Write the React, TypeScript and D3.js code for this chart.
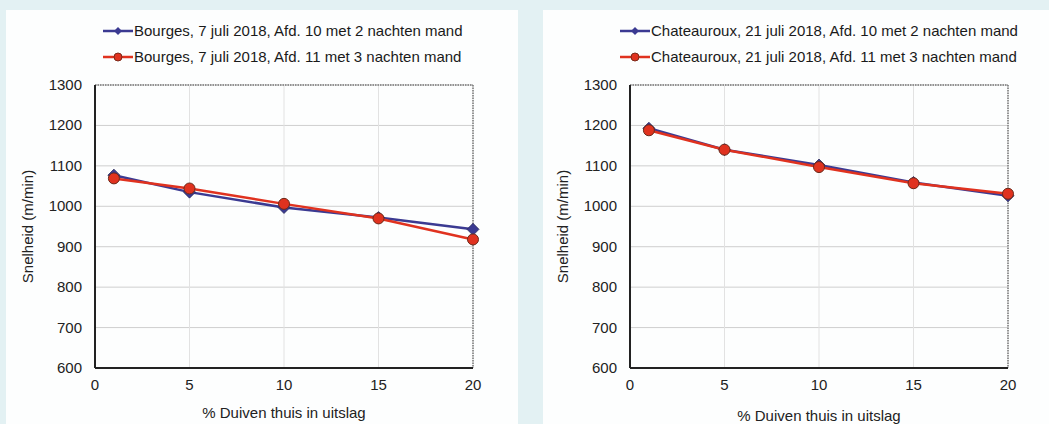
import React from 'react'
import * as d3 from 'd3'

const xValues = [1, 5, 10, 15, 20]
const xTicks = [0, 5, 10, 15, 20]
const yTicks = [600, 700, 800, 900, 1000, 1100, 1200, 1300]

const bourgesNames = [
  'Bourges, 7 juli 2018, Afd. 10 met 2 nachten mand',
  'Bourges, 7 juli 2018, Afd. 11 met 3 nachten mand',
]
const bourges2 = [1077, 1035, 997, 972, 943]
const bourges3 = [1069, 1044, 1006, 970, 918]

const chateauNames = [
  'Chateauroux, 21 juli 2018, Afd. 10 met 2 nachten mand',
  'Chateauroux, 21 juli 2018, Afd. 11 met 3 nachten mand',
]
const chateau2 = [1193, 1140, 1102, 1059, 1026]
const chateau3 = [1188, 1140, 1097, 1057, 1031]

const BLUE = '#3b3a92'
const RED = '#e0321f'
const FONT = '"Liberation Sans", Arial, sans-serif'
const FS = 15

type PanelProps = {
  px: number
  pw: number
  left: number
  right: number
  legendX: number
  titleX: number
  xTitleY: number
  names: string[]
  s2: number[]
  s3: number[]
}

function Panel({ px, pw, left, right, legendX, titleX, xTitleY, names, s2, s3 }: PanelProps) {
  const top = 85
  const bottom = 368
  const x = d3.scaleLinear().domain([0, 20]).range([left, right])
  const y = d3.scaleLinear().domain([600, 1300]).range([bottom, top])
  const line = d3.line<number>().x((_, i) => x(xValues[i])).y(d => y(d))
  const diamond = (cx: number, cy: number, r: number) =>
    `M${cx},${cy - r}L${cx + r},${cy}L${cx},${cy + r}L${cx - r},${cy}Z`

  return (
    <g>
      <rect x={px} y={10} width={pw} height={420} fill="#fdfefe" />
      {/* legend */}
      {names.map((n, i) => {
        const ly = 31 + i * 26
        const c = i === 0 ? BLUE : RED
        return (
          <g key={n}>
            <line x1={legendX} x2={legendX + 30} y1={ly} y2={ly} stroke={c} strokeWidth={2.5} />
            {i === 0 ? (
              <path d={diamond(legendX + 15, ly, 4)} fill={BLUE} />
            ) : (
              <circle cx={legendX + 15} cy={ly} r={4} fill={RED} stroke="#7a2a1a" strokeWidth={1} />
            )}
            <text x={legendX + 31} y={ly + 5} fontSize={FS} fontFamily={FONT} fill="#1a1a1a">
              {n}
            </text>
          </g>
        )
      })}
      {/* grid */}
      {yTicks.map(t => (
        <line key={'gy' + t} x1={left} x2={right} y1={y(t)} y2={y(t)} stroke="#cfcfcf" strokeWidth={1} />
      ))}
      {xTicks.map(t => (
        <line key={'gx' + t} x1={x(t)} x2={x(t)} y1={top} y2={bottom} stroke="#e2e2e2" strokeWidth={1} />
      ))}
      <line x1={left} x2={right} y1={top} y2={top} stroke="#777" strokeWidth={1.5} strokeDasharray="1.5 1" />
      <line x1={right} x2={right} y1={top} y2={bottom} stroke="#777" strokeWidth={1.5} strokeDasharray="1.5 1" />
      <line x1={left} x2={left} y1={top} y2={bottom} stroke="#222" strokeWidth={2} />
      <line x1={left} x2={right} y1={bottom} y2={bottom} stroke="#222" strokeWidth={2} />
      {/* tick labels */}
      {yTicks.map(t => (
        <text key={'ty' + t} x={left - 13} y={y(t) + 5} textAnchor="end" fontSize={FS} fontFamily={FONT} fill="#222">
          {t}
        </text>
      ))}
      {xTicks.map(t => (
        <text key={'tx' + t} x={x(t)} y={bottom + 22} textAnchor="middle" fontSize={FS} fontFamily={FONT} fill="#222">
          {t}
        </text>
      ))}
      <text x={(left + right) / 2} y={xTitleY} textAnchor="middle" fontSize={FS} fontFamily={FONT} fill="#222">
        % Duiven thuis in uitslag
      </text>
      <text
        transform={`translate(${titleX},${(top + bottom) / 2}) rotate(-90)`}
        textAnchor="middle"
        fontSize={FS}
        fontFamily={FONT}
        fill="#222"
      >
        Snelheid (m/min)
      </text>
      {/* series */}
      <path d={line(s2) ?? ''} fill="none" stroke={BLUE} strokeWidth={2.5} />
      {s2.map((v, i) => (
        <path key={'b' + i} d={diamond(x(xValues[i]), y(v), 6)} fill={BLUE} stroke="#2a2a5a" strokeWidth={0.8} />
      ))}
      <path d={line(s3) ?? ''} fill="none" stroke={RED} strokeWidth={2.5} />
      {s3.map((v, i) => (
        <circle key={'r' + i} cx={x(xValues[i])} cy={y(v)} r={5.5} fill={RED} stroke="#6a2a1a" strokeWidth={1} />
      ))}
    </g>
  )
}

export default function App() {
  return (
    <svg width={1049} height={424} style={{ position: 'absolute', left: 0, top: 0 }}>
      <rect width={1049} height={424} fill="#e3f1f3" />
      <Panel px={6} pw={512} left={95} right={473} legendX={103} titleX={33} xTitleY={418} names={bourgesNames} s2={bourges2} s3={bourges3} />
      <Panel px={543} pw={506} left={630} right={1008} legendX={620} titleX={568} xTitleY={421} names={chateauNames} s2={chateau2} s3={chateau3} />
    </svg>
  )
}
